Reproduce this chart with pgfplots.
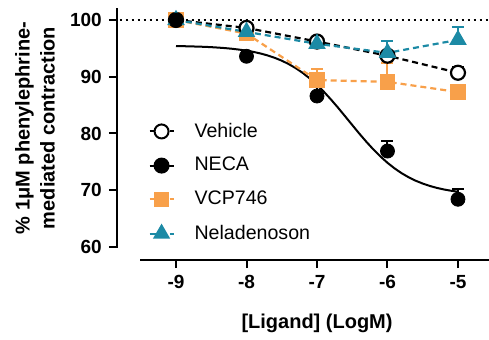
\documentclass[border=0pt]{standalone}
\usepackage{fontspec}
\setmainfont{Liberation Sans}
\usepackage{pgfplots}
\pgfplotsset{compat=1.18}
\definecolor{vorange}{HTML}{F8A04A}
\definecolor{nteal}{HTML}{1C8AA5}
\pgfplotsset{myerr/.style={error bars/.cd, y dir=plus, y explicit, error bar style={line width=1pt, solid}, error mark=-, error mark options={line width=1pt, mark size=3pt, solid, rotate=90}}}
\begin{document}
\begin{tikzpicture}
\begin{axis}[
 at={(0,0)}, anchor=south west,
 scale only axis, width=186.1pt, height=126pt,
 xmin=-9.84, xmax=-4.56, ymin=57.7, ymax=102.11,
 axis line style={draw=none},
 xtick={-9,-8,-7,-6,-5}, ytick={60,70,80,90,100},
 xtick pos=bottom, ytick pos=left, tick align=outside,
 major tick length=4pt, tick style={black, line width=1pt},
 ticklabel style={font=\fontsize{9.5}{11}\selectfont\bfseries},
 /pgf/number format/assume math mode=true,
 xlabel={[Ligand] (LogM)},
 ylabel={\% 1μM phenylephrine-\\mediated contraction},
 label style={font=\fontsize{10}{12.5}\selectfont\bfseries},
 xlabel style={at={(axis description cs:0.538,-0.25)}, anchor=center},
 ylabel style={at={(axis description cs:-0.22,0.524)}, anchor=center, align=center},
 clip=false,
 legend style={at={(axis cs:-9.48,83.0)}, anchor=north west, draw=none, fill=none,
   font=\fontsize{9.8}{11}\selectfont, row sep=6.6pt, nodes={inner sep=1pt},
   /tikz/every odd column/.append style={column sep=9pt}},
 legend cell align=left,
 legend image code/.code={\draw[mark repeat=2,mark phase=2,#1] plot coordinates {(0pt,0pt)(6pt,0pt)(12pt,0pt)};},
]
\addlegendimage{black, line width=1pt, dash pattern=on 3pt off 2pt, mark=*, mark size=3.5pt, mark options={fill=white, solid}}
\addlegendentry{Vehicle}
\addlegendimage{black, line width=1pt, mark=*, mark size=3.5pt}
\addlegendentry{NECA}
\addlegendimage{vorange, line width=1pt, dash pattern=on 3pt off 2pt, mark=square*, mark size=3.4pt, mark options={solid}}
\addlegendentry{VCP746}
\addlegendimage{nteal, line width=1pt, dash pattern=on 3pt off 2pt, mark=triangle*, mark size=4pt, mark options={solid}}
\addlegendentry{Neladenoson}

% NECA fit curve
\addplot[black, line width=1pt, forget plot] coordinates {
(-9.0,95.41)(-8.9,95.38)(-8.8,95.35)(-8.7,95.31)(-8.6,95.27)(-8.5,95.21)(-8.4,95.13)(-8.3,95.04)(-8.2,94.92)(-8.1,94.77)
(-8.0,94.59)(-7.9,94.37)(-7.8,94.09)(-7.7,93.75)(-7.6,93.33)(-7.5,92.83)(-7.4,92.22)(-7.3,91.50)(-7.2,90.65)(-7.1,89.67)
(-7.0,88.56)(-6.9,87.32)(-6.8,85.96)(-6.7,84.52)(-6.6,83.01)(-6.5,81.49)(-6.4,79.98)(-6.3,78.54)(-6.2,77.18)(-6.1,75.94)
(-6.0,74.83)(-5.9,73.85)(-5.8,73.00)(-5.7,72.28)(-5.6,71.67)(-5.5,71.17)(-5.4,70.75)(-5.3,70.41)(-5.2,70.13)(-5.1,69.91)(-5.0,69.73)};

% VCP746
\addplot[vorange, line width=1.1pt, dash pattern=on 3pt off 2pt, mark=square*, mark size=3.4pt, mark options={solid}, forget plot, myerr]
 coordinates {(-9,100) +- (0,0) (-8,97.6) +- (0,0.5) (-7,89.4) +- (0,2.0) (-6,89.1) +- (0,3.3) (-5,87.3) +- (0,1.0)};

% Vehicle
\addplot[black, line width=1.1pt, dash pattern=on 3pt off 2pt, mark=*, mark size=3.5pt, mark options={fill=white, solid}, forget plot, myerr]
 coordinates {(-9,100) +- (0,0) (-8,98.6) +- (0,0.5) (-7,96.2) +- (0,0.5) (-6,93.7) +- (0,0.5) (-5,90.7) +- (0,1.0)};

% Neladenoson
\addplot[nteal, line width=1.1pt, dash pattern=on 3pt off 2pt, mark=triangle*, mark size=4pt, mark options={solid}, forget plot, myerr]
 coordinates {(-9,100) +- (0,0) (-8,97.9) +- (0,0.5) (-7,95.8) +- (0,0.8) (-6,94.2) +- (0,2.1) (-5,96.5) +- (0,2.3)};

% NECA points
\addplot[black, only marks, mark=*, mark size=3.5pt, forget plot, myerr]
 coordinates {(-9,100) +- (0,0) (-8,93.6) +- (0,0.5) (-7,86.6) +- (0,1.6) (-6,76.9) +- (0,1.7) (-5,68.4) +- (0,1.9)};

% axis lines and reference line
\draw[line width=1pt, dash pattern=on 1pt off 2pt] (axis cs:-9.80,100) -- (axis cs:-4.56,100);
\draw[line width=1pt] (axis cs:-9.84,59.9) -- (axis cs:-9.84,102.11);
\draw[line width=1pt] (axis cs:-9.51,57.7) -- (axis cs:-4.56,57.7);
\end{axis}
\pgfresetboundingbox
\path (-58.4pt,-39.5pt) rectangle (186.1pt,130pt);
\end{tikzpicture}
\end{document}
